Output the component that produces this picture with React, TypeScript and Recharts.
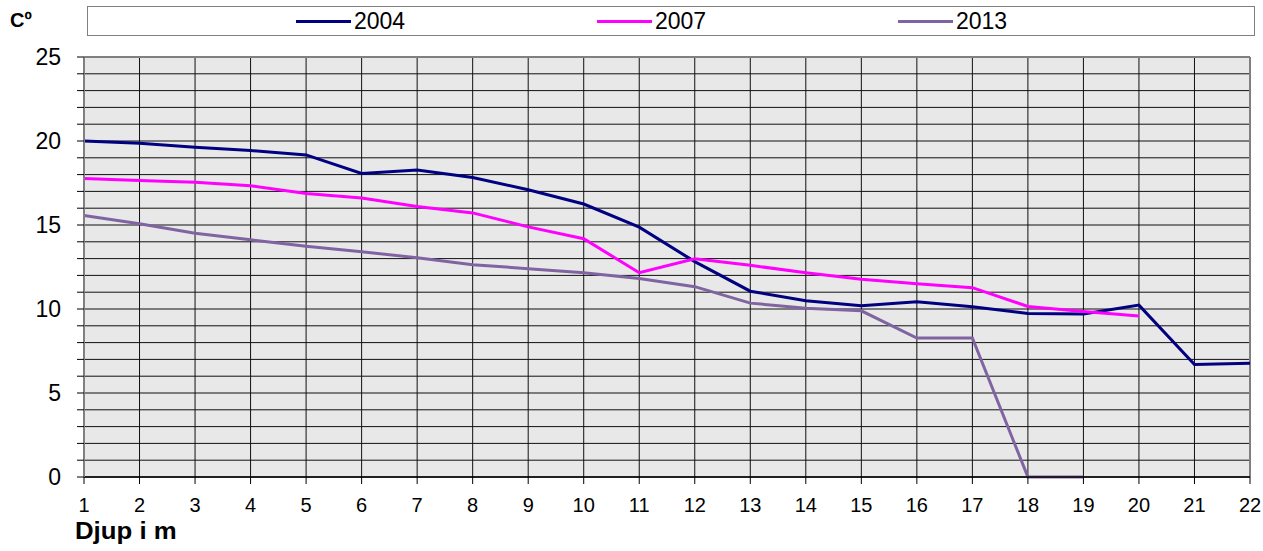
import React from 'react';
import { LineChart, Line, XAxis, YAxis, CartesianGrid, Legend, ReferenceLine } from 'recharts';

const depths = [1, 2, 3, 4, 5, 6, 7, 8, 9, 10, 11, 12, 13, 14, 15, 16, 17, 18, 19, 20, 21, 22];
const temp2004 = [20.0, 19.87, 19.63, 19.43, 19.17, 18.07, 18.27, 17.83, 17.1, 16.25, 14.87, 12.82, 11.06, 10.49, 10.19, 10.43, 10.13, 9.73, 9.7, 10.23, 6.69, 6.77];
const temp2007 = [17.77, 17.65, 17.55, 17.34, 16.88, 16.61, 16.1, 15.72, 14.89, 14.18, 12.16, 12.99, 12.6, 12.16, 11.77, 11.51, 11.27, 10.15, 9.85, 9.58];
const temp2013 = [15.56, 15.07, 14.51, 14.12, 13.74, 13.41, 13.05, 12.64, 12.4, 12.16, 11.81, 11.33, 10.35, 10.05, 9.89, 8.27, 8.27, 0, 0];

const seriesNames = ['2004', '2007', '2013'];
const seriesColors = ['#000080', '#FF00FF', '#8064A2'];
const yTicks = [0, 1, 2, 3, 4, 5, 6, 7, 8, 9, 10, 11, 12, 13, 14, 15, 16, 17, 18, 19, 20, 21, 22, 23, 24, 25];
const xTicks = depths;

const data = depths.map((d, i) => ({
  depth: d,
  y2004: i < temp2004.length ? temp2004[i] : null,
  y2007: i < temp2007.length ? temp2007[i] : null,
  y2013: i < temp2013.length ? temp2013[i] : null,
}));

const FONT = 'Arial, "Liberation Sans", sans-serif';

const LegendBox = () => (
  <div
    style={{
      position: 'relative',
      width: 1168,
      height: 30,
      border: '1px solid #808080',
      boxSizing: 'border-box',
      background: '#fff',
      fontFamily: FONT,
    }}
  >
    {seriesNames.map((name, i) => (
      <div
        key={name}
        style={{
          position: 'absolute',
          left: 208 + i * 301,
          top: 0,
          height: 28,
          display: 'flex',
          alignItems: 'center',
        }}
      >
        <div style={{ width: 55, height: 3, background: seriesColors[i] }} />
        <span style={{ fontSize: 23, marginLeft: 3, color: '#000', lineHeight: '28px' }}>{name}</span>
      </div>
    ))}
  </div>
);

export default function App() {
  return (
    <div style={{ position: 'absolute', left: 0, top: 0, width: 1263, height: 551, background: '#fff' }}>
      <LineChart width={1263} height={551} data={data} margin={{ top: 57, right: 13, bottom: 0, left: 0 }}>
        <CartesianGrid stroke="#111" strokeWidth={1} fill="#E8E8E8" fillOpacity={1} />
        <XAxis
          dataKey="depth"
          type="number"
          domain={[1, 22]}
          ticks={xTicks}
          interval={0}
          height={74}
          tickSize={7}
          tickMargin={14}
          axisLine={{ stroke: '#000', strokeWidth: 1.5 }}
          tickLine={{ stroke: '#000' }}
          tick={{ fill: '#000', fontSize: 20, fontFamily: FONT }}
        />
        <YAxis
          type="number"
          domain={[0, 25]}
          ticks={yTicks}
          interval={0}
          width={84}
          tickSize={7}
          tickMargin={16}
          tickFormatter={(v: number) => (v % 5 === 0 ? String(v) : '')}
          axisLine={{ stroke: '#808080', strokeWidth: 2 }}
          tickLine={{ stroke: '#000' }}
          tick={{ fill: '#000', fontSize: 23, fontFamily: FONT }}
        />
        <ReferenceLine y={25} stroke="#808080" strokeWidth={2} />
        <ReferenceLine x={22} stroke="#808080" strokeWidth={2} />
        <Legend
          layout="horizontal"
          verticalAlign="middle"
          align="center"
          wrapperStyle={{ top: 6, left: 87, width: 1168, height: 30 }}
          content={() => <LegendBox />}
        />
        <Line type="linear" dataKey="y2004" name={seriesNames[0]} stroke={seriesColors[0]} strokeWidth={3} dot={false} isAnimationActive={false} />
        <Line type="linear" dataKey="y2007" name={seriesNames[1]} stroke={seriesColors[1]} strokeWidth={3} dot={false} isAnimationActive={false} />
        <Line type="linear" dataKey="y2013" name={seriesNames[2]} stroke={seriesColors[2]} strokeWidth={3} dot={false} isAnimationActive={false} />
      </LineChart>
      <div style={{ position: 'absolute', left: 10, top: 10, fontFamily: FONT, fontWeight: 'bold', fontSize: 20, lineHeight: '20px', color: '#000' }}>
        Cº
      </div>
      <div style={{ position: 'absolute', left: 75, top: 520, fontFamily: FONT, fontWeight: 'bold', fontSize: 23, lineHeight: '23px', transform: 'scaleX(1.12)', transformOrigin: 'left top', whiteSpace: 'nowrap', color: '#000' }}>
        Djup i m
      </div>
    </div>
  );
}
